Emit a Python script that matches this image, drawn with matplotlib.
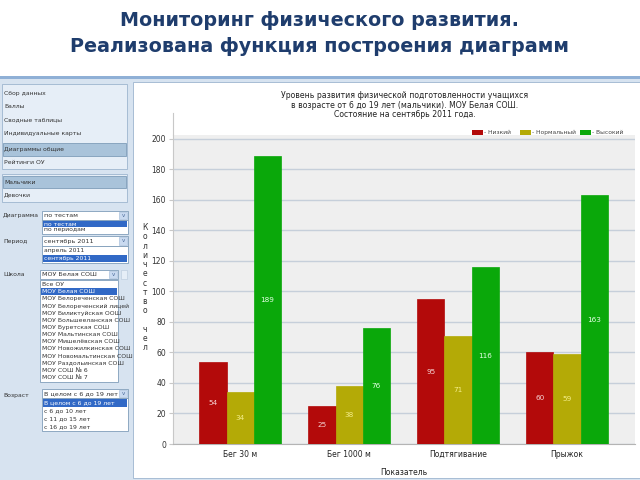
import numpy as np
import matplotlib
matplotlib.use('Agg')
import matplotlib.pyplot as plt
from matplotlib.patches import Rectangle

plt.rcParams['font.family'] = ['DejaVu Sans']

# chart data
categories = ['Бег 30 м', 'Бег 1000 м', 'Подтягивание', 'Прыжок']
low = [54, 25, 95, 60]
normal = [34, 38, 71, 59]
high = [189, 76, 116, 163]
series_names = ['- Низкий', '- Нормальный', '- Высокий']
series_colors = ['#B30A0A', '#B4AA06', '#0AA80A']
label_colors = ['#F6D6D6', '#F4EE8A', '#E6FFE6']
yticks = list(range(0, 201, 20))

# left panel texts
menu_items = ['Сбор данных', 'Баллы', 'Сводные таблицы', 'Индивидуальные карты',
              'Диаграммы общие', 'Рейтинги ОУ']
gender_items = ['Мальчики', 'Девочки']
chart_types = ['по тестам', 'по периодам']
periods = ['апрель 2011', 'сентябрь 2011']
schools = ['Все ОУ', 'МОУ Белая СОШ', 'МОУ Белореченская СОШ', 'МОУ Белореченский лицей',
           'МОУ Биликтуйская ООШ', 'МОУ Большееланская СОШ', 'МОУ Буретская СОШ',
           'МОУ Мальтинская СОШ', 'МОУ Мишелёвская СОШ', 'МОУ Новожилкинская СОШ',
           'МОУ Новомальтинская СОШ', 'МОУ Раздольинская СОШ', 'МОУ СОШ № 6', 'МОУ СОШ № 7']
ages = ['В целом с 6 до 19 лет', 'с 6 до 10 лет', 'с 11 до 15 лет', 'с 16 до 19 лет']

fig = plt.figure(figsize=(6.4, 4.8), dpi=100)
ui = fig.add_axes([0, 0, 1, 1])
ui.set_xlim(0, 640)
ui.set_ylim(480, 0)
ui.axis('off')


def rect(x0, y0, x1, y1, fc, ec='none', lw=0.6):
    ui.add_patch(Rectangle((x0, y0), x1 - x0, y1 - y0, facecolor=fc, edgecolor=ec, linewidth=lw))


def txt(x, y, s, size=4.4, color='#333333', **kw):
    ui.text(x, y, s, fontsize=size, color=color, va='center', **kw)


def dropdown(x0, y0, x1, y1, s):
    rect(x0, y0, x1, y1, 'white', '#7F9DB9')
    rect(x1 - 9, y0 + 1, x1 - 1, y1 - 1, '#C9DAF0', '#9FB8D8', 0.4)
    txt(x1 - 5, (y0 + y1) / 2, 'v', size=4, color='#4A6A9A', ha='center')
    txt(x0 + 2, (y0 + y1) / 2, s, size=4.6)


def listbox(x0, y0, x1, items, sel, step):
    rect(x0, y0, x1, y0 + step * len(items) + 2, 'white', '#7F9DB9')
    for i, s in enumerate(items):
        yc = y0 + 1 + step * (i + 0.5)
        if i == sel:
            rect(x0 + 1, yc - step / 2, x1 - 1, yc + step / 2, '#3169C6')
            txt(x0 + 2, yc, s, color='white')
        else:
            txt(x0 + 2, yc, s)


# title
fig.text(0.5, 1 - 20 / 480, 'Мониторинг физического развития.', ha='center', va='center',
         fontsize=13.8, fontweight='bold', color='#1F3D6D')
fig.text(0.5, 1 - 47 / 480, 'Реализована функция построения диаграмм', ha='center', va='center',
         fontsize=13.8, fontweight='bold', color='#1F3D6D')

# screenshot frame
rect(0, 76, 640, 480, '#D7E3F0')
rect(0, 76, 640, 79, '#8FB0D6')
rect(133, 82, 640, 478, 'white', '#9DB5CF')

# left panel
rect(2, 84, 127, 169, '#E6EEF7', '#9DB5CF')
menu_y = [93, 106, 120, 134, 149, 162]
for s, y in zip(menu_items, menu_y):
    if s == 'Диаграммы общие':
        rect(3, y - 6.5, 126, y + 6.5, '#A9C3DA', '#7F9DB9')
    txt(4, y, s)
rect(2, 174, 127, 202, '#E6EEF7', '#9DB5CF')
for s, y in zip(gender_items, [182, 195]):
    if s == 'Мальчики':
        rect(3, y - 6, 126, y + 6, '#A9C3DA', '#7F9DB9')
    txt(4, y, s)

txt(3, 216, 'Диаграмма')
dropdown(42, 211, 128, 220, 'по тестам')
listbox(42, 220, 128, chart_types, 0, 6.0)

txt(3, 241, 'Период')
dropdown(42, 236, 128, 246, 'сентябрь 2011')
listbox(42, 246, 128, periods, 1, 7.5)

txt(3, 275, 'Школа')
dropdown(40, 270, 118, 279, 'МОУ Белая СОШ')
rect(121, 270, 127, 279, '#E6EEF7', '#B8C8DA', 0.4)
listbox(40, 280, 118, schools, 1, 7.15)

txt(3, 395, 'Возраст')
dropdown(42, 389, 128, 398, 'В целом с 6 до 19 лет')
listbox(42, 398, 128, ages, 0, 7.8)

# chart title and legend
txt(405, 105, 'Уровень развития физической подготовленности учащихся\n'
    'в возрасте от 6 до 19 лет (мальчики). МОУ Белая СОШ.\n'
    'Состояние на сентябрь 2011 года.', size=5.6, color='#222222', ha='center',
    linespacing=1.1)
leg_x = [472, 520, 580]
for name, c, x in zip(series_names, series_colors, leg_x):
    rect(x, 129.5, x + 11, 134.5, c)
    txt(x + 12.5, 132, name, size=4.3, color='#444444')

# bar chart
ax = fig.add_axes([173 / 640, 36 / 480, 462 / 640, 309 / 480])
ax.set_facecolor('#EFEFEF')
x = np.arange(len(categories))
w = 0.248
for k, (vals, c, lc) in enumerate(zip([low, normal, high], series_colors, label_colors)):
    xs = x + (k - 1) * w
    ax.bar(xs, vals, width=w, color=c, edgecolor=c, linewidth=0.5, zorder=3)
    for xi, v in zip(xs, vals):
        ax.text(xi, v / 2, str(v), ha='center', va='center', fontsize=5.2, color=lc, zorder=4)

ax.set_xlim(-0.615, 3.624)
ax.set_ylim(0, 202.6)
ax.set_yticks(yticks)
ax.set_xticks(x)
ax.set_xticklabels(categories)
ax.tick_params(axis='x', length=0, labelsize=5.5, labelcolor='#222222', pad=4)
ax.tick_params(axis='y', length=3, color='#C8C8C8', labelsize=5.5, labelcolor='#333333', pad=2)
ax.grid(axis='y', color='#C6CFDA', linewidth=1, zorder=1)
for side in ['top', 'right']:
    ax.spines[side].set_visible(False)
ax.spines['left'].set_color('#C8C8C8')
ax.spines['bottom'].set_color('#B4B4B4')
ax.set_xlabel('Показатель', fontsize=5.5, color='#222222')
ax.xaxis.set_label_coords(0.5, -0.078)
ax.set_ylabel('\n'.join('Количество чел'), rotation=0, fontsize=5.5, color='#333333',
              linespacing=1.03, ha='center', va='center')
ax.yaxis.set_label_coords(-0.061, 0.506)

# axis line reaching above plot area
ui.plot([173, 173], [135, 113], color='#C8C8C8', linewidth=0.8)

fig.savefig('out.png', dpi=100)
